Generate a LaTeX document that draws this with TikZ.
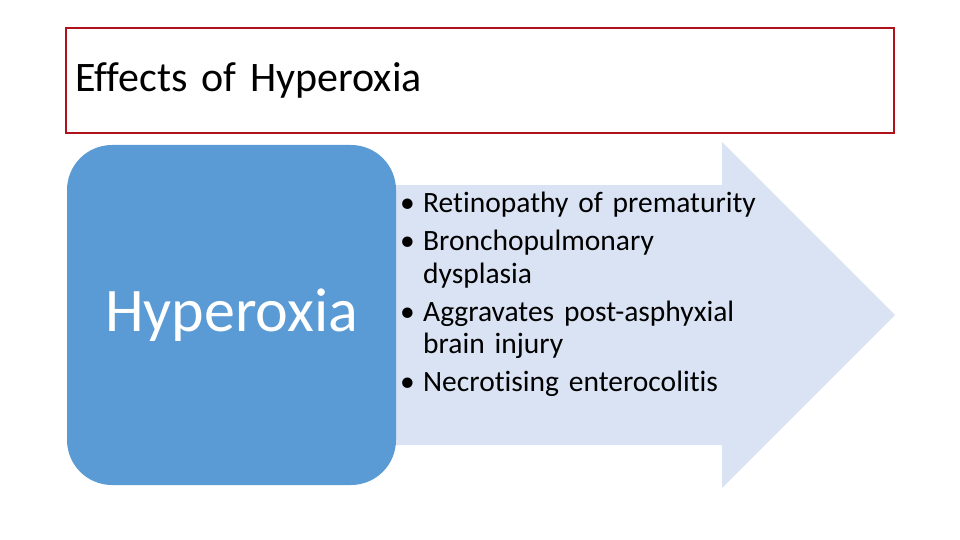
\documentclass[tikz,border=0pt]{standalone}
\usepackage{fontspec}
\setmainfont{Carlito}[Ligatures=NoCommon]
\usepackage{xcolor}
\usepackage{tikz}
\usetikzlibrary{positioning}
\definecolor{titlered}{RGB}{176,18,28}
\definecolor{causeblue}{RGB}{91,155,213}
\definecolor{effectfill}{RGB}{218,227,243}
\tikzstyle{titlebox} = [rectangle, draw=titlered, line width=2pt, minimum width=828pt, minimum height=105pt, text width=810pt, align=left, inner sep=0pt, font=\fontsize{42}{48}\selectfont]
\tikzstyle{cause} = [rectangle, rounded corners=45pt, fill=causeblue, minimum width=329pt, minimum height=340pt, text=white, font=\fontsize{62}{70}\selectfont]
\tikzstyle{effects} = [text width=360pt, align=left, inner sep=0pt, anchor=base west, font=\fontsize{29.5}{32}\selectfont, execute at begin node={\setlength{\parskip}{6pt}}]
\tikzstyle{bigarrow} = [fill=effectfill]
\newcommand{\effectitem}[1]{\par\hangindent=23pt\hangafter=1\noindent\makebox[23pt][l]{\textbullet}#1}

\begin{document}
\begin{tikzpicture}[x=1pt, y=-1pt]
    \useasboundingbox (0,0) rectangle (960,540);

    % Arrow
    \fill [bigarrow] (396,185) -- (722,185) -- (722,142) -- (895,315)
        -- (722,488) -- (722,445) -- (396,445) -- cycle;

    % Nodes
    \node (title) [titlebox] at (480,80.5) {Effects of Hyperoxia};
    \node (cause) [cause] at (231.5,315) {Hyperoxia};
    \node (effects) [effects] at (400,175) {%
        \effectitem{Retinopathy of prematurity}
        \effectitem{Bronchopulmonary\newline dysplasia}
        \effectitem{Aggravates post-asphyxial\newline brain injury}
        \effectitem{Necrotising enterocolitis}};

\end{tikzpicture}
\end{document}
